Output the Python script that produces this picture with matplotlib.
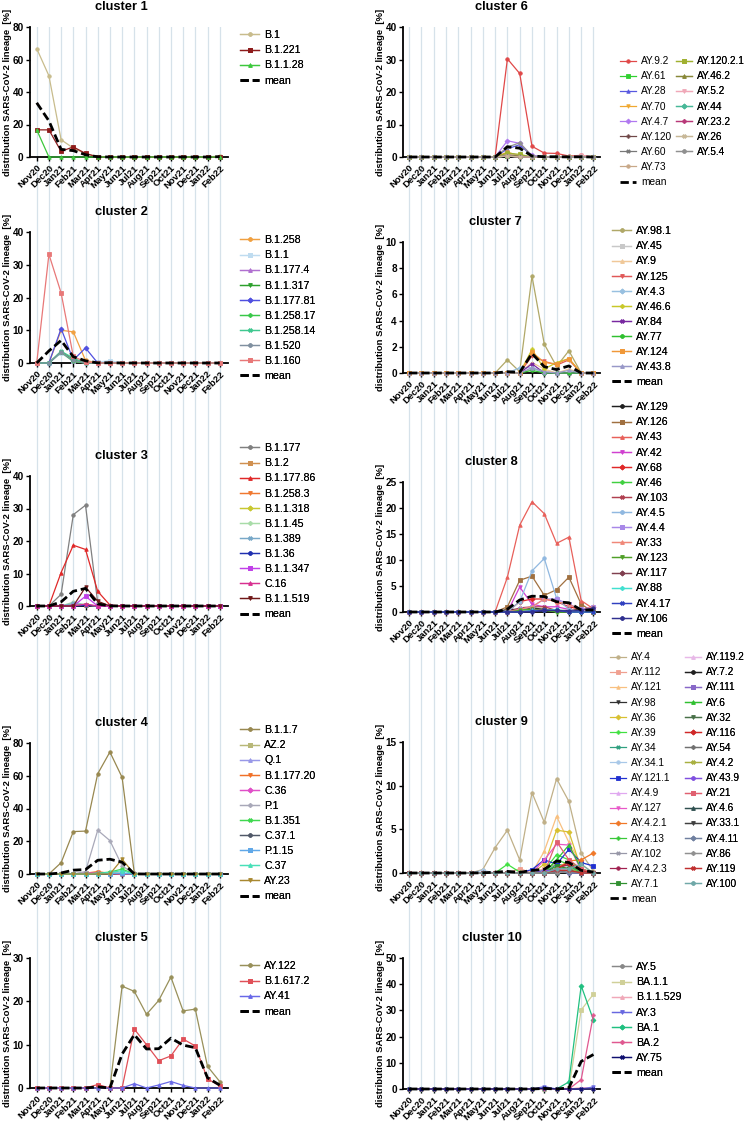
import numpy as np
import matplotlib
matplotlib.use("Agg")
import matplotlib.pyplot as plt

plt.rcParams['font.family'] = ['Liberation Sans', 'DejaVu Sans']

# ---------------- data ----------------
months = ["Nov20", "Dec20", "Jan21", "Feb21", "Mar21", "Apr21", "May21", "Jun21",
          "Jul21", "Aug21", "Sep21", "Oct21", "Nov21", "Dec21", "Jan22", "Feb22"]

c1_names = ["B.1", "B.1.221", "B.1.1.28"]
c1_values = [
    [66.7, 50.0, 10.6, 5.5, 2.0, 0.3, 0, 0, 0, 0, 0, 0, 0, 0, 0, 0.6],
    [16.7, 16.7, 3.5, 6.2, 2.2, 0, 0, 0, 0, 0, 0, 0, 0, 0, 0, 0],
    [16.7, 0, 0, 0, 0, 0, 0, 0, 0, 0, 0, 0, 0, 0, 0, 0],
]

c2_names = ["B.1.258", "B.1.1", "B.1.177.4", "B.1.1.317", "B.1.177.81",
            "B.1.258.17", "B.1.258.14", "B.1.520", "B.1.160"]
c2_values = [
    [0, 0, 10.0, 9.5, 0.8, 0, 0, 0, 0, 0, 0, 0, 0, 0, 0, 0],
    [0, 0, 3.0, 0.5, 0, 0.3, 0.7, 0, 0, 0, 0, 0, 0, 0, 0, 0],
    [0, 0, 3.5, 0.5, 0.3, 0, 0, 0, 0, 0, 0, 0, 0, 0, 0, 0],
    [0, 0, 3.5, 1.0, 0, 0, 0, 0, 0, 0, 0, 0, 0, 0, 0, 0],
    [0, 0, 10.5, 0.9, 4.6, 0, 0, 0, 0, 0, 0, 0, 0, 0, 0, 0],
    [0, 0, 3.3, 0.5, 0, 0, 0, 0, 0, 0, 0, 0, 0, 0, 0, 0],
    [0, 0, 3.6, 1.5, 0, 0, 0, 0, 0, 0, 0, 0, 0, 0, 0, 0],
    [0, 0, 3.3, 0.8, 0, 0, 0, 0, 0, 0, 0, 0, 0, 0, 0, 0],
    [0, 33.2, 21.4, 2.0, 0.3, 0, 0, 0, 0, 0, 0, 0, 0, 0, 0, 0],
]

c3_names = ["B.1.177", "B.1.2", "B.1.177.86", "B.1.258.3", "B.1.1.318", "B.1.1.45",
            "B.1.389", "B.1.36", "B.1.1.347", "C.16", "B.1.1.519"]
c3_values = [
    [0, 0, 3.6, 28.1, 31.0, 1.0, 0, 0, 0, 0, 0, 0, 0, 0, 0, 0],
    [0, 0, 0, 0.5, 0.3, 0, 0, 0, 0, 0, 0, 0, 0, 0, 0, 0],
    [0, 0, 10.3, 18.7, 17.4, 4.5, 0.3, 0, 0, 0, 0, 0, 0, 0, 0, 0],
    [0, 0, 0, 0.3, 0.2, 0, 0, 0, 0, 0, 0, 0, 0, 0, 0, 0],
    [0, 0, 0, 0.2, 0.3, 0, 0, 0, 0, 0, 0, 0, 0, 0, 0, 0],
    [0, 0, 0, 1.2, 0.4, 0, 0, 0, 0, 0, 0, 0, 0, 0, 0, 0],
    [0, 0, 0, 0.8, 0.3, 0, 0, 0, 0, 0, 0, 0, 0, 0, 0, 0],
    [0, 0, 0, 0, 0.2, 0, 0, 0, 0, 0, 0, 0, 0, 0, 0, 0],
    [0, 0, 0, 0, 3.0, 0, 0, 0, 0, 0, 0, 0, 0, 0, 0, 0],
    [0, 0, 0, 0, 0.6, 0, 0, 0, 0, 0, 0, 0, 0, 0, 0, 0],
    [0, 0, 0, 0, 5.8, 1.5, 0, 0, 0, 0, 0, 0, 0, 0, 0, 0],
]

c4_names = ["B.1.1.7", "AZ.2", "Q.1", "B.1.177.20", "C.36", "P.1", "B.1.351",
            "C.37.1", "P.1.15", "C.37", "AY.23"]
c4_values = [
    [0, 0, 6.9, 25.9, 26.2, 61.2, 74.5, 59.0, 0.5, 0, 0, 0, 0, 0, 0, 0],
    [0, 0, 0, 0, 0.5, 0.8, 0.5, 0.3, 0, 0, 0, 0, 0, 0, 0, 0],
    [0, 0, 0, 0, 0.3, 0.5, 0.3, 0, 0, 0, 0, 0, 0, 0, 0, 0],
    [0, 0, 0, 0, 0.5, 1.5, 0.3, 0, 0, 0, 0, 0, 0, 0, 0, 0],
    [0, 0, 0, 0, 0.8, 0.5, 0.3, 0, 0, 0, 0, 0, 0, 0, 0, 0],
    [0, 0, 0, 0, 1.5, 26.7, 20.4, 5.0, 0, 0, 0, 0, 0, 0, 0, 0],
    [0, 0, 0, 0, 0, 0.5, 1.2, 3.0, 0, 0, 0, 0, 0, 0, 0, 0],
    [0, 0, 0, 0, 0, 0.3, 0.5, 0.3, 0, 0, 0, 0, 0, 0, 0, 0],
    [0, 0, 0, 0, 0, 0, 0.3, 0.5, 0, 0, 0, 0, 0, 0, 0, 0],
    [0, 0, 0, 0, 0, 0.3, 1.0, 2.0, 0, 0, 0, 0, 0, 0, 0, 0],
    [0, 0, 0, 0, 0, 0, 0, 9.0, 0, 0, 0, 0, 0, 0, 0, 0],
]

c5_names = ["AY.122", "B.1.617.2", "AY.41"]
c5_values = [
    [0, 0, 0, 0, 0, 0, 0, 23.5, 22.3, 17.0, 20.2, 25.6, 17.8, 18.2, 5.0, 1.5],
    [0, 0, 0, 0, 0, 0.8, 0, 0, 13.6, 10.0, 6.3, 7.4, 11.3, 9.7, 2.1, 0.5],
    [0, 0, 0, 0, 0, 0, 0, 0, 1.0, 0, 0.7, 1.5, 0.6, 0, 0, 0],
]

c6_names = ["AY.9.2", "AY.61", "AY.28", "AY.70", "AY.4.7", "AY.120", "AY.60", "AY.73",
            "AY.120.2.1", "AY.46.2", "AY.5.2", "AY.44", "AY.23.2", "AY.26", "AY.5.4"]
c6_values = [
    [0, 0, 0, 0, 0, 0, 0, 0, 30.2, 25.7, 3.3, 1.2, 1.1, 0.3, 0.5, 0],
    [0, 0, 0, 0, 0, 0, 0, 0, 0.3, 0.2, 0, 0, 0, 0, 0, 0],
    [0, 0, 0, 0, 0, 0, 0, 0, 2.5, 3.8, 0.3, 0, 0, 0, 0, 0],
    [0, 0, 0, 0, 0, 0, 0, 0, 1.5, 0.3, 0, 0, 0, 0, 0, 0],
    [0, 0, 0, 0, 0, 0, 0, 0, 5.0, 4.2, 0.5, 0, 0, 0, 0, 0],
    [0, 0, 0, 0, 0, 0, 0, 0, 0.8, 0.3, 0, 0, 0, 0, 0, 0],
    [0, 0, 0, 0, 0, 0, 0, 0, 0.3, 0, 0, 0, 0, 0, 0, 0],
    [0, 0, 0, 0, 0, 0, 0, 0, 1.0, 0.5, 0, 0, 0, 0, 0, 0],
    [0, 0, 0, 0, 0, 0, 0, 0, 1.2, 0.8, 0, 0, 0, 0, 0, 0],
    [0, 0, 0, 0, 0, 0, 0, 0, 0.3, 0.3, 0, 0, 0, 0, 0, 0],
    [0, 0, 0, 0, 0, 0, 0, 0, 0.3, 0, 0, 0, 0, 0, 0.5, 0],
    [0, 0, 0, 0, 0, 0, 0, 0, 0.3, 0, 0, 0, 0, 0, 0, 0],
    [0, 0, 0, 0, 0, 0, 0, 0, 0.3, 0, 0, 0, 0, 0, 0, 0],
    [0, 0, 0, 0, 0, 0, 0, 0, 0.3, 0, 0, 0, 0, 0, 0, 0],
    [0, 0, 0, 0, 0, 0, 0, 0, 3.0, 4.4, 0.3, 0, 0, 0, 0, 0],
]

c7_names = ["AY.98.1", "AY.45", "AY.9", "AY.125", "AY.4.3", "AY.46.6", "AY.84",
            "AY.77", "AY.124", "AY.43.8"]
c7_values = [
    [0, 0, 0, 0, 0, 0, 0, 0, 1.0, 0.1, 7.4, 2.2, 0.5, 1.7, 0, 0],
    [0, 0, 0, 0, 0, 0, 0, 0, 0, 0, 0.3, 0.2, 0, 0, 0, 0],
    [0, 0, 0, 0, 0, 0, 0, 0, 0, 0, 0.8, 0.3, 0, 0.3, 0, 0],
    [0, 0, 0, 0, 0, 0, 0, 0, 0, 0, 1.3, 0.9, 0.6, 1.0, 0, 0],
    [0, 0, 0, 0, 0, 0, 0, 0, 0, 0.4, 0.4, 0, 0, 0, 0, 0],
    [0, 0, 0, 0, 0, 0, 0, 0, 0, 0, 1.8, 0.3, 0.8, 1.1, 0, 0],
    [0, 0, 0, 0, 0, 0, 0, 0, 0, 0, 0.7, 0, 0, 0, 0, 0],
    [0, 0, 0, 0, 0, 0, 0, 0, 0, 0, 0.2, 0, 0, 0, 0, 0],
    [0, 0, 0, 0, 0, 0, 0, 0, 0, 0, 1.6, 0.8, 0.7, 1.1, 0, 0],
    [0, 0, 0, 0, 0, 0, 0, 0, 0, 0, 0.4, 0.1, 0, 0.2, 0, 0],
]

c8_names = ["AY.129", "AY.126", "AY.43", "AY.42", "AY.68", "AY.46", "AY.103", "AY.4.5",
            "AY.4.4", "AY.33", "AY.123", "AY.117", "AY.88", "AY.4.17", "AY.106"]
c8_values = [
    [0, 0, 0, 0, 0, 0, 0, 0, 0.5, 0.5, 0.8, 0.5, 0.3, 0.3, 0.5, 0.8],
    [0, 0, 0, 0, 0, 0, 0, 0, 1.0, 6.1, 6.9, 3.2, 4.3, 6.7, 1.5, 0],
    [0, 0, 0, 0, 0, 0, 0, 0, 6.7, 16.7, 21.2, 18.9, 13.2, 14.4, 2.2, 0.6],
    [0, 0, 0, 0, 0, 0, 0, 0, 0, 4.8, 1.5, 1.0, 1.0, 0.5, 0, 0.5],
    [0, 0, 0, 0, 0, 0, 0, 0, 0, 2.0, 2.5, 2.5, 2.0, 1.0, 0.5, 1.0],
    [0, 0, 0, 0, 0, 0, 0, 0, 0, 0.5, 0.5, 0.5, 0, 0, 0, 0],
    [0, 0, 0, 0, 0, 0, 0, 0, 0, 0.8, 1.0, 1.0, 0.3, 0, 0, 0],
    [0, 0, 0, 0, 0, 0, 0, 0, 0, 2.0, 7.9, 10.3, 2.6, 0.5, 0, 0],
    [0, 0, 0, 0, 0, 0, 0, 0, 0, 0.5, 1.0, 2.5, 2.5, 1.5, 0.5, 1.0],
    [0, 0, 0, 0, 0, 0, 0, 0, 0, 0.5, 1.0, 2.5, 2.0, 1.5, 0.3, 1.0],
    [0, 0, 0, 0, 0, 0, 0, 0, 0, 0.3, 0.5, 0.3, 0, 0, 0, 0],
    [0, 0, 0, 0, 0, 0, 0, 0, 0, 0, 0.3, 0.5, 0.3, 0, 0, 0],
    [0, 0, 0, 0, 0, 0, 0, 0, 0, 0, 0.3, 0.3, 0.5, 0, 0, 0],
    [0, 0, 0, 0, 0, 0, 0, 0, 0, 0, 0.2, 0.3, 0.3, 0, 0, 0],
    [0, 0, 0, 0, 0, 0, 0, 0, 0, 0, 0, 0.3, 0.3, 0.2, 0.3, 0.8],
]

c9_names = ["AY.4", "AY.112", "AY.121", "AY.98", "AY.36", "AY.39", "AY.34", "AY.34.1",
            "AY.121.1", "AY.4.9", "AY.127", "AY.4.2.1", "AY.4.13", "AY.102", "AY.4.2.3",
            "AY.7.1",
            "AY.119.2", "AY.7.2", "AY.111", "AY.6", "AY.32", "AY.116", "AY.54", "AY.4.2",
            "AY.43.9", "AY.21", "AY.4.6", "AY.33.1", "AY.4.11", "AY.86", "AY.119", "AY.100"]
c9_values = [
    [0, 0, 0, 0, 0, 0, 0.4, 2.9, 4.9, 1.5, 9.2, 5.8, 10.8, 8.2, 2.3, 0.2],
    [0, 0, 0, 0, 0, 0, 0, 0, 0, 0.5, 0, 0.5, 1.0, 0.5, 0, 0],
    [0, 0, 0, 0, 0, 0, 0, 0, 0, 0, 0, 2.5, 6.5, 3.5, 1.0, 0],
    [0, 0, 0, 0, 0, 0, 0, 0, 0, 0, 0, 0, 0.3, 0.2, 0, 0],
    [0, 0, 0, 0, 0, 0, 0, 0, 0, 0, 0, 1.0, 4.9, 4.7, 0.5, 0],
    [0, 0, 0, 0, 0, 0, 0, 0, 1.0, 0.1, 0, 0.3, 2.1, 1.5, 0.3, 0],
    [0, 0, 0, 0, 0, 0, 0, 0, 0, 0, 0, 0, 1.0, 0.8, 0, 0],
    [0, 0, 0, 0, 0, 0, 0.3, 0, 0, 0, 0, 0, 0.5, 0.5, 0, 0],
    [0, 0, 0, 0, 0, 0, 0, 0, 0, 0, 0.4, 1.5, 1.0, 2.7, 1.2, 0.8],
    [0, 0, 0, 0, 0, 0, 0, 0, 0, 0, 0, 0, 0.5, 0.3, 0, 0],
    [0, 0, 0, 0, 0, 0, 0, 0, 0, 0, 0, 1.5, 3.3, 3.2, 0.3, 0],
    [0, 0, 0, 0, 0, 0, 0, 0, 0, 0, 0, 0, 0.5, 1.4, 1.5, 2.3],
    [0, 0, 0, 0, 0, 0, 0, 0, 0, 0, 0, 0, 1.5, 1.0, 0, 0],
    [0, 0, 0, 0, 0, 0, 0, 0, 0, 0, 0, 0, 0.3, 0, 0, 0],
    [0, 0, 0, 0, 0, 0, 0, 0, 0, 0, 0, 0, 0.5, 1.0, 0.3, 0],
    [0, 0, 0, 0, 0, 0, 0, 0, 0, 0, 0, 0, 0.8, 0.5, 0, 0],
    [0, 0, 0, 0, 0, 0, 0, 0, 0, 0, 0, 0, 0.3, 0, 0, 0],
    [0, 0, 0, 0, 0, 0, 0, 0, 0, 0, 0, 0, 0, 0.1, 0, 0],
    [0, 0, 0, 0, 0, 0, 0, 0, 0, 0, 0, 0, 0.3, 0.3, 0, 0],
    [0, 0, 0, 0, 0, 0, 0, 0, 0, 0, 0, 0, 1.5, 3.2, 0.5, 0],
    [0, 0, 0, 0, 0, 0, 0, 0, 0, 0, 0, 0, 0.3, 0, 0, 0],
    [0, 0, 0, 0, 0, 0, 0, 0, 0, 0, 0, 0, 0.5, 1.2, 0.3, 0],
    [0, 0, 0, 0, 0, 0, 0, 0, 0, 0, 0, 0, 0, 0.2, 0, 0],
    [0, 0, 0, 0, 0, 0, 0, 0, 0, 0, 0, 0, 0.5, 0.5, 0, 0],
    [0, 0, 0, 0, 0, 0, 0, 0, 0, 0, 0, 0.3, 0.3, 0, 0, 0],
    [0, 0, 0, 0, 0, 0, 0, 0, 0, 0, 0, 0, 3.6, 1.5, 0.5, 0],
    [0, 0, 0, 0, 0, 0, 0, 0, 0, 0, 0, 0, 0, 0.3, 0, 0],
    [0, 0, 0, 0, 0, 0, 0, 0, 0, 0, 0, 0, 0, 0.2, 0, 0],
    [0, 0, 0, 0, 0, 0, 0, 0, 0, 0, 0, 0, 0.2, 0, 0, 0],
    [0, 0, 0, 0, 0, 0, 0, 0, 0, 0, 0, 0, 0, 0.2, 0, 0],
    [0, 0, 0, 0, 0, 0, 0, 0, 0, 0, 0, 0, 0.3, 0.3, 0, 0],
    [0, 0, 0, 0, 0, 0, 0, 0, 0, 0, 0, 0, 0.5, 0.5, 1.0, 0],
]

c10_names = ["AY.5", "BA.1.1", "B.1.1.529", "AY.3", "BA.1", "BA.2", "AY.75"]
c10_values = [
    [0, 0, 0, 0, 0, 0, 0, 0, 0, 0, 0, 0.3, 0, 0, 0, 0],
    [0, 0, 0, 0, 0, 0, 0, 0, 0, 0, 0, 0, 0, 0.3, 30.2, 36.2],
    [0, 0, 0, 0, 0, 0, 0, 0, 0, 0, 0, 0, 0, 0, 0.5, 0.5],
    [0, 0, 0, 0, 0, 0, 0, 0, 0, 0, 0, 0.9, 0, 0, 0, 0.8],
    [0, 0, 0, 0, 0, 0, 0, 0, 0, 0, 0, 0, 0, 2.7, 39.4, 26.3],
    [0, 0, 0, 0, 0, 0, 0, 0, 0, 0, 0, 0, 0, 0, 3.6, 28.4],
    [0, 0, 0, 0, 0, 0, 0, 0, 0, 0, 0, 0.3, 0, 0, 0, 0],
]

# ---------------- styles ----------------
MK = ['o', 's', '^', 'v', 'D', 'P', 'X', 'o', 's', '^', 'v', 'D', 'P', 'X', 'o', 's', '^']

c1_colors = ['#C8BC8C', '#8E1B1B', '#3CC83C']
c2_colors = ['#F0A040', '#BFDCF0', '#B070D0', '#2CA02C', '#5050E0', '#38C848', '#40C890', '#8090A0', '#E87878']
c3_colors = ['#808080', '#D09050', '#E02828', '#F07830', '#C8C830', '#A8DCA8', '#78A8C8', '#2030B0', '#C040E8', '#D83090', '#701818']
c4_colors = ['#988850', '#B8B878', '#9898E8', '#F07028', '#E050C8', '#A8A8B8', '#40D850', '#505868', '#60A8E8', '#48E0B8', '#A88830']
c5_colors = ['#98905A', '#E05058', '#6868E8']
c6_colors = ['#E04848', '#30D030', '#5858E0', '#F0A830', '#B078F0', '#704848', '#787878', '#C8A888',
             '#A0B030', '#888838', '#F0A8B8', '#48B898', '#B83878', '#C8B898', '#909090']
c7_colors = ['#B0A868', '#C8C8C8', '#F0C898', '#E05858', '#98C0E0', '#C8C828', '#7828A0', '#30C030', '#F09838', '#9898C8']
c8_colors = ['#202020', '#A07040', '#E8605A', '#D040D0', '#E02828', '#40D040', '#B04050', '#90B8E0',
             '#A888E8', '#F08878', '#50A028', '#804050', '#40E0D0', '#3040C0', '#303090']
c9_colors = ['#C0B088', '#F0A090', '#F8C080', '#303030', '#D8C030', '#40E040', '#30A080', '#A8C8E8',
             '#2030D0', '#E0A8F0', '#E858C8', '#F07828', '#38C838', '#9898A8', '#A02050', '#309030',
             '#E8B8E8', '#202020', '#8868C8', '#30C030', '#487048', '#D02828', '#707070', '#A8B040',
             '#8050E0', '#E06070', '#305050', '#404040', '#7080A0', '#909090', '#C03030', '#70A8A8']
c10_colors = ['#888888', '#D0D098', '#F0A8B8', '#6868E0', '#20C080', '#E05890', '#101070']

W, H = 750, 1124
fig = plt.figure(figsize=(W / 100, H / 100), dpi=100)

LEFT = (30, 228, (-0.55, 15.68))
RIGHT = (403, 600, (-0.49, 15.53))

# (title, names, values, colors, yrange, column, ytop, ybot, title_x, legend cols [(x_px, first_center_px, n)], legend font)
panels = [
    ("cluster 1", c1_names, c1_values, c1_colors, (0, 80, 20), LEFT, 27, 157, 0.46, [(240, 35, 3)], 7.7),
    ("cluster 2", c2_names, c2_values, c2_colors, (0, 40, 10), LEFT, 232, 363, 0.46, [(240, 240, 9)], 7.7),
    ("cluster 3", c3_names, c3_values, c3_colors, (0, 40, 10), LEFT, 476, 606, 0.46, [(240, 448, 11)], 7.7),
    ("cluster 4", c4_names, c4_values, c4_colors, (0, 80, 20), LEFT, 743, 874, 0.46, [(240, 730, 11)], 7.7),
    ("cluster 5", c5_names, c5_values, c5_colors, (0, 30, 10), LEFT, 958, 1088, 0.46, [(240, 966, 3)], 7.7),
    ("cluster 6", c6_names, c6_values, c6_colors, (0, 40, 10), RIGHT, 27, 157, 0.50, [(620, 61, 8), (676, 61, 7)], 7.3),
    ("cluster 7", c7_names, c7_values, c7_colors, (0, 10, 2), RIGHT, 242, 373, 0.47, [(612, 231, 10)], 7.7),
    ("cluster 8", c8_names, c8_values, c8_colors, (0, 25, 5), RIGHT, 482, 612, 0.45, [(612, 407, 15)], 7.7),
    ("cluster 9", c9_names, c9_values, c9_colors, (0, 15, 5), RIGHT, 742, 873, 0.50, [(610, 657, 16), (685, 657, 16)], 7.3),
    ("cluster 10", c10_names, c10_values, c10_colors, (0, 50, 10), RIGHT, 958, 1089, 0.45, [(612, 967, 7)], 7.7),
]

x = np.arange(len(months))

# background vertical grid lines spanning each column
for (x0, x1, xl), ytop, ybot in [(LEFT, 27, 1088), (RIGHT, 27, 1089)]:
    bg = fig.add_axes([x0 / W, 1 - ybot / H, (x1 - x0) / W, (ybot - ytop) / H], zorder=0)
    bg.set_xlim(*xl)
    bg.set_ylim(0, 1)
    bg.axis('off')
    for xi in x:
        bg.axvline(xi, color='#D6E2EA', lw=0.9)

ROW = 15.1
for (title, names, values, colors, (y0, y1, ystep), (x0, x1, xl), ytop, ybot, tx, legcols, lfs) in panels:
    ax = fig.add_axes([x0 / W, 1 - ybot / H, (x1 - x0) / W, (ybot - ytop) / H], zorder=2)
    ax.patch.set_alpha(0)
    handles = []
    for i, (nm, vals, col) in enumerate(zip(names, values, colors)):
        h, = ax.plot(x, vals, color=col, lw=0.9, marker=MK[i % len(MK)], ms=2.5,
                     mfc=col, mec=col, mew=0.6, clip_on=False, zorder=3, label=nm)
        handles.append(h)
    mean_vals = np.mean(np.array(values, dtype=float), axis=0)
    hm, = ax.plot(x, mean_vals, color='black', lw=2.0, ls=(0, (3, 1.4)), clip_on=False,
                  zorder=5, label='mean')
    ax.set_xlim(*xl)
    ax.set_ylim(y0, y1)
    yt = np.arange(y0, y1 + 0.001, ystep)
    ax.set_yticks(yt)
    ax.set_yticklabels([f"{v:g}" for v in yt], fontsize=7.2, fontweight='bold')
    ax.set_xticks(x)
    ax.set_xticklabels(months, rotation=45, ha='right', rotation_mode='anchor',
                       fontsize=6.8, fontweight='bold')
    for s in ['top', 'right']:
        ax.spines[s].set_visible(False)
    for s in ['left', 'bottom']:
        ax.spines[s].set_linewidth(1.3)
    ax.tick_params(axis='x', length=3, width=1.0, pad=1.5)
    ax.tick_params(axis='y', length=3, width=1.0, pad=1.5)
    ax.set_ylabel('distribution SARS-CoV-2 lineage  [%]', fontsize=6.8, fontweight='bold')
    ax.yaxis.set_label_coords(-0.093, 0.5)
    hpx = ybot - ytop
    ax.text(tx, 1 + 20 / hpx, title, transform=ax.transAxes, ha='center', va='center',
            fontsize=9.3, fontweight='bold')

    # legends
    fs_px = lfs * 100 / 72
    lsp = ROW / fs_px - 0.935
    if lfs < 7.5:
        lsp -= 0.05
    hl = 1.8 if lfs > 7.5 else 1.6
    start = 0
    for ci, (lx, ly, n) in enumerate(legcols):
        hs = handles[start:start + n]
        if ci == 0:
            hs = hs + [hm]
        start += n
        leg = ax.legend(handles=hs, labels=[h.get_label() for h in hs],
                        loc='upper left', bbox_to_anchor=(lx / W, 1 - (ly - 4.8) / H),
                        bbox_transform=fig.transFigure, frameon=False, borderpad=0,
                        borderaxespad=0, handlelength=hl, handletextpad=0.45,
                        labelspacing=lsp, fontsize=lfs, numpoints=1)
        ax.add_artist(leg)

fig.savefig('out.png', dpi=100)
